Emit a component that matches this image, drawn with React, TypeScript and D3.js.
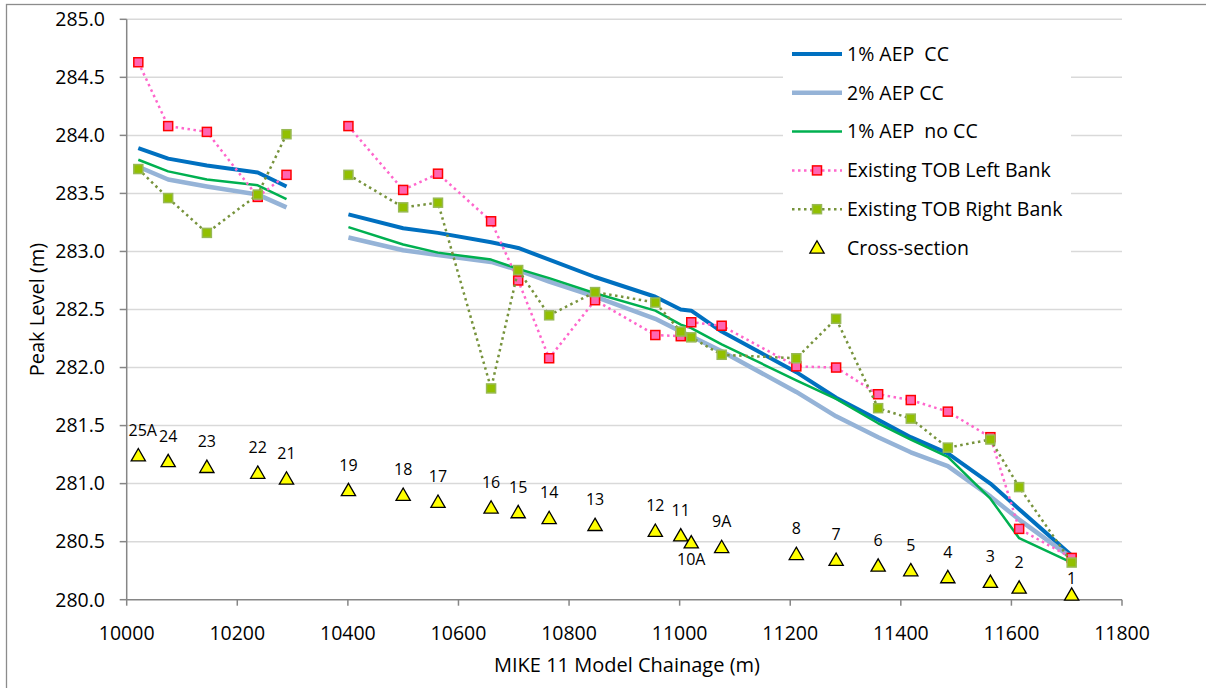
import React from "react";
import * as d3 from "d3";

// cross-sections along the reach (upstream -> downstream)
const sections = ["25A", "24", "23", "22", "21", "19", "18", "17", "16", "15", "14", "13", "12", "11", "10A", "9A", "8", "7", "6", "5", "4", "3", "2", "1"];
const chainage = [10021, 10075, 10145, 10237, 10289, 10401, 10500, 10563, 10659, 10708, 10764, 10847, 10956, 11002, 11021, 11076, 11211, 11283, 11359, 11418, 11485, 11562, 11614, 11709];
const sectionLevel = [281.24, 281.19, 281.14, 281.09, 281.04, 280.94, 280.9, 280.84, 280.79, 280.75, 280.7, 280.64, 280.59, 280.55, 280.49, 280.45, 280.39, 280.34, 280.29, 280.25, 280.19, 280.15, 280.1, 280.04];

const aep1cc = [283.89, 283.8, 283.74, 283.68, 283.56, 283.32, 283.2, 283.16, 283.08, 283.03, 282.93, 282.78, 282.61, 282.5, 282.49, 282.31, 281.96, 281.74, 281.55, 281.4, 281.26, 281.0, 280.78, 280.38];
const aep2cc = [283.73, 283.62, 283.56, 283.49, 283.38, 283.12, 283.01, 282.97, 282.91, 282.84, 282.74, 282.61, 282.42, 282.31, 282.27, 282.14, 281.79, 281.58, 281.4, 281.27, 281.15, 280.89, 280.69, 280.36];
const aep1noCC = [283.79, 283.69, 283.62, 283.57, 283.45, 283.21, 283.06, 282.99, 282.93, 282.85, 282.77, 282.64, 282.49, 282.37, 282.34, 282.2, 281.89, 281.73, 281.52, 281.38, 281.23, 280.87, 280.53, 280.32];
const leftBank = [284.63, 284.08, 284.03, 283.47, 283.66, 284.08, 283.53, 283.67, 283.26, 282.75, 282.08, 282.58, 282.28, 282.27, 282.39, 282.36, 282.01, 282.0, 281.77, 281.72, 281.62, 281.4, 280.61, 280.36];
const rightBank = [283.71, 283.46, 283.16, 283.49, 284.01, 283.66, 283.38, 283.42, 281.82, 282.84, 282.45, 282.65, 282.56, 282.31, 282.26, 282.11, 282.08, 282.42, 281.65, 281.56, 281.31, 281.38, 280.97, 280.32];

// no results between section 21 and 19, lines break there
const breakBefore = "19";
// labels that don't sit in the usual spot above the triangle
const labelBelow = ["10A"];
const labelNear = ["1"];

const xTicks = [10000, 10200, 10400, 10600, 10800, 11000, 11200, 11400, 11600, 11800];
const yTicks = [280, 280.5, 281, 281.5, 282, 282.5, 283, 283.5, 284, 284.5, 285];

const FONT = "'Open Sans', sans-serif";

export default function App() {
  const x = d3.scaleLinear().domain([10000, 11800]).range([126.7, 1122]);
  const y = d3.scaleLinear().domain([280, 285]).range([599.7, 19.3]);
  const plotL = x.range()[0];
  const plotR = x.range()[1];
  const plotT = y.range()[1];
  const plotB = y.range()[0];

  const cut = sections.indexOf(breakBefore);
  const line = d3
    .line<[number, number]>()
    .x((d) => x(d[0]))
    .y((d) => y(d[1]));
  const paths = (vals: number[]) => {
    const pts = chainage.map((c, i) => [c, vals[i]] as [number, number]);
    return [pts.slice(0, cut), pts.slice(cut)].map((seg) => line(seg) || "");
  };

  const series = [
    { name: "1% AEP  CC", values: aep1cc, color: "#0070c0", width: 4, dash: null, marker: null },
    { name: "2% AEP CC", values: aep2cc, color: "#95b3d7", width: 4.5, dash: null, marker: null },
    { name: "1% AEP  no CC", values: aep1noCC, color: "#00b050", width: 2.5, dash: null, marker: null },
    { name: "Existing TOB Left Bank", values: leftBank, color: "#ff66cc", width: 2.5, dash: "2.5 3.5", marker: { fill: "#ff66b2", stroke: "#ff0000" } },
    { name: "Existing TOB Right Bank", values: rightBank, color: "#77933c", width: 2.5, dash: "2.5 3.5", marker: { fill: "#92c000", stroke: "#98b954" } },
  ];

  const tri = d3.symbol(d3.symbolTriangle, 88)() || "";

  const legendX = 792;
  const legendY0 = 54;
  const legendDy = 38.8;

  return (
    <svg width={1206} height={688} style={{ position: "absolute", left: 0, top: 0, background: "#fff" }} fontFamily={FONT}>
      <rect x={6.5} y={4.5} width={1210} height={700} fill="#fff" stroke="#8c8c8c" strokeWidth={1.3} />

      {/* gridlines */}
      {yTicks.slice(1).map((t) => (
        <line key={"g" + t} x1={plotL} x2={plotR} y1={y(t)} y2={y(t)} stroke="#d9d9d9" strokeWidth={1.5} />
      ))}

      {/* legend background sits over the gridlines */}
      <rect x={783} y={32} width={288} height={233} fill="#fff" />

      {/* axes */}
      <line x1={plotL} x2={plotL} y1={plotT} y2={plotB} stroke="#868686" strokeWidth={1.5} />
      <line x1={plotL} x2={plotR} y1={plotB} y2={plotB} stroke="#868686" strokeWidth={1.5} />
      {yTicks.map((t) => (
        <g key={"y" + t}>
          <line x1={plotL - 7} x2={plotL} y1={y(t)} y2={y(t)} stroke="#868686" strokeWidth={1.5} />
          <text x={105} y={y(t)} dy="0.35em" textAnchor="end" fontSize={19.5} fill="#000">
            {t.toFixed(1)}
          </text>
        </g>
      ))}
      {xTicks.map((t) => (
        <g key={"x" + t}>
          <line x1={x(t)} x2={x(t)} y1={plotB} y2={plotB + 6} stroke="#868686" strokeWidth={1.5} />
          <text x={x(t)} y={640} textAnchor="middle" fontSize={19.5} fill="#000">
            {t}
          </text>
        </g>
      ))}
      <text x={627} y={672} textAnchor="middle" fontSize={20} fill="#000">
        MIKE 11 Model Chainage (m)
      </text>
      <text transform={`translate(44,${(plotT + plotB) / 2}) rotate(-90)`} textAnchor="middle" fontSize={20} fill="#000">
        Peak Level (m)
      </text>

      {/* series */}
      {series.map((s) => (
        <g key={s.name}>
          {paths(s.values).map((d, i) => (
            <path key={i} d={d} fill="none" stroke={s.color} strokeWidth={s.width} strokeDasharray={s.dash || undefined} strokeLinejoin="round" />
          ))}
          {s.marker &&
            s.values.map((v, i) => (
              <rect key={i} x={x(chainage[i]) - 4.5} y={y(v) - 4.5} width={9} height={9} fill={s.marker!.fill} stroke={s.marker!.stroke} strokeWidth={1.5} />
            ))}
        </g>
      ))}

      {/* cross-sections */}
      {sections.map((s, i) => {
        const cx = x(chainage[i]);
        const cy = y(sectionLevel[i]);
        const lx = Math.max(cx, plotL + 16);
        const ly = labelBelow.includes(s) ? cy + 22 : labelNear.includes(s) ? cy - 11 : cy - 20;
        return (
          <g key={"cs" + s}>
            <path d={tri} transform={`translate(${cx},${cy + 1})`} fill="#ffff00" stroke="#000" strokeWidth={1.3} />
            <text x={lx} y={ly} textAnchor="middle" fontSize={16} fill="#000">
              {s}
            </text>
          </g>
        );
      })}

      {/* legend */}
      {series.map((s, i) => {
        const ly = legendY0 + i * legendDy;
        return (
          <g key={"lg" + s.name}>
            <line x1={legendX} x2={legendX + 50} y1={ly} y2={ly} stroke={s.color} strokeWidth={s.width} strokeDasharray={s.dash || undefined} />
            {s.marker && (
              <rect x={legendX + 20.5} y={ly - 4.5} width={9} height={9} fill={s.marker.fill} stroke={s.marker.stroke} strokeWidth={1.5} />
            )}
            <text x={847} y={ly} dy="0.35em" fontSize={19.5} fill="#000" style={{ whiteSpace: "pre" }}>
              {s.name}
            </text>
          </g>
        );
      })}
      <path d={tri} transform={`translate(${legendX + 25},${legendY0 + 5 * legendDy + 1})`} fill="#ffff00" stroke="#000" strokeWidth={1.3} />
      <text x={847} y={legendY0 + 5 * legendDy} dy="0.35em" fontSize={19.5} fill="#000">
        Cross-section
      </text>
    </svg>
  );
}
